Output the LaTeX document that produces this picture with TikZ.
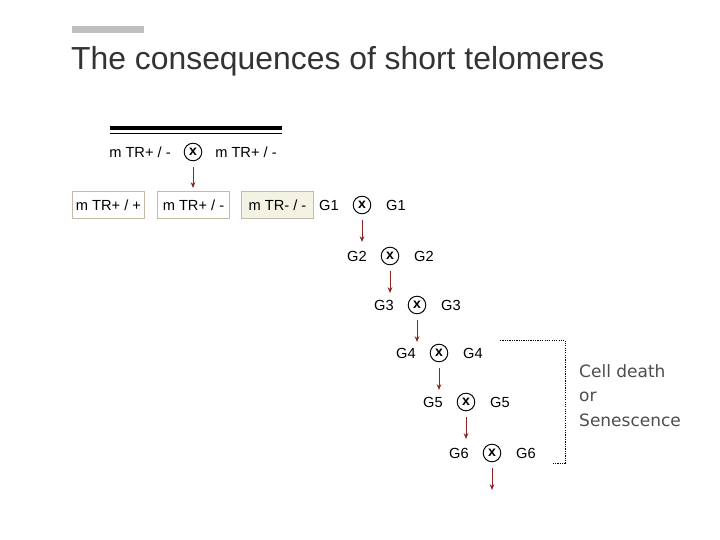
\documentclass[tikz,border=0pt]{standalone}
\usepackage{fontspec}
\setmainfont{Liberation Sans}
\newfontfamily\notefont{DejaVu Sans}
\usetikzlibrary{positioning,arrows.meta}
\definecolor{titlegray}{HTML}{333333}
\definecolor{bargray}{HTML}{BFBFBF}
\definecolor{boxline}{HTML}{C4BCA4}
\definecolor{boxfill}{HTML}{F4F2E2}
\definecolor{arrowred}{HTML}{8B2323}
\definecolor{notegray}{HTML}{4D4D4D}

\begin{document}
\begin{tikzpicture}[
    x=0.03cm, y=-0.03cm,
    cross/.style={
        circle,
        draw,
        line width=0.8pt,
        inner sep=0pt,
        minimum size=15pt,
        font=\fontsize{12}{12}\selectfont\bfseries
    },
    gene/.style={
        font=\fontsize{12.5}{13}\selectfont,
        inner sep=1pt
    },
    genotype/.style={
        rectangle,
        draw=boxline,
        line width=0.8pt,
        fill=white,
        minimum width=62pt,
        minimum height=23pt,
        font=\fontsize{12.5}{13}\selectfont
    },
    descent/.style={
        draw=arrowred,
        line width=0.8pt,
        -{Stealth[length=5pt,width=4pt]}
    }
]
\useasboundingbox (0,0) rectangle (720,540);

% Title
\fill[bargray] (72,26) rectangle (144,33);
\node[anchor=base west, inner sep=0pt, text=titlegray,
      font=\fontsize{27.2}{28}\selectfont] (title) at (71,70)
      {The consequences of short telomeres};

% Parent cross
\draw[line width=3pt] (110,128) -- (282,128);
\draw[line width=0.8pt] (110,133) -- (282,133);
\node[cross] (x0) at (193,152) {x};
\node[gene] (p-left) at (140,152) {m TR+ / -};
\node[gene] (p-right) at (246,152) {m TR+ / -};
\coordinate (e0) at (193,188);
\draw[descent] ([yshift=-5pt]x0.south) -- (e0);

% Offspring
\node[genotype] (off-1) at (108.5,205) {m TR+ / +};
\node[genotype] (off-2) at (193.5,205) {m TR+ / -};
\node[genotype, fill=boxfill] (off-3) at (277.5,205) {m TR- / -};

% Generations
\foreach \g/\x/\y in {1/362/205, 2/390/256, 3/417/305, 4/439/353, 5/466/402, 6/492/453} {
    \node[cross] (x\g) at (\x,\y) {x};
    \node[gene] (g\g-left) at (\x-33,\y) {G\g};
    \node[gene] (g\g-right) at (\x+34,\y) {G\g};
    \coordinate (e\g) at (\x,\y+37);
    \draw[descent] ([yshift=-5pt]x\g.south) -- (e\g);
}

% Bracket
\draw[dash pattern=on 1pt off 1pt, line width=0.8pt] (500,340) -| (565,463) -- (552,463);
\node[anchor=north west, align=left, inner sep=0pt, text=notegray,
      font=\notefont\fontsize{14.5}{21}\selectfont] (fate) at (579,364)
      {Cell death\\or\\Senescence};

\end{tikzpicture}
\end{document}
